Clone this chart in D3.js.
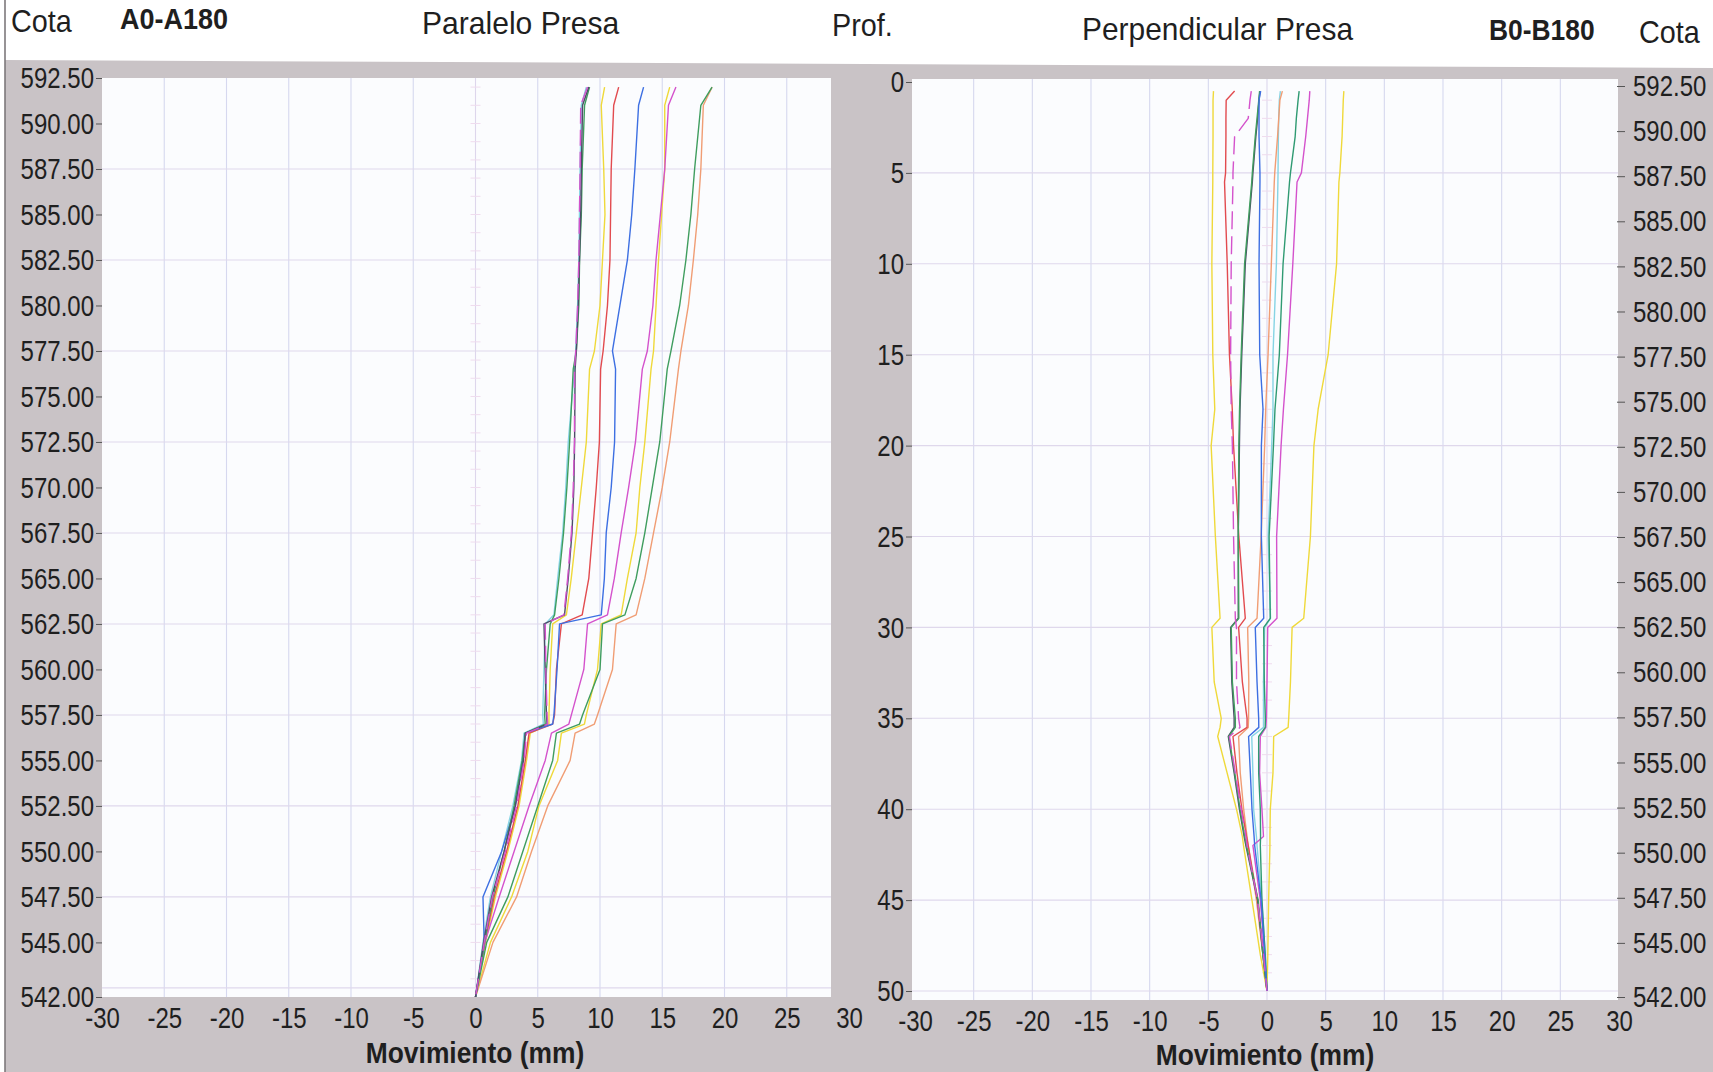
<!DOCTYPE html>
<html><head><meta charset="utf-8">
<script src="https://cdn.jsdelivr.net/npm/d3@7"></script>
<style>
html,body{margin:0;padding:0;background:#fff;}
svg{display:block;font-family:"Liberation Sans",Arial,sans-serif;}
</style></head><body>
<svg id="c" width="1713" height="1072"></svg>
<script>
// ---------- DATA ----------
const xTicks = [-30,-25,-20,-15,-10,-5,0,5,10,15,20,25,30];
const cotaTicks = [542,545,547.5,550,552.5,555,557.5,560,562.5,565,567.5,570,572.5,575,577.5,580,582.5,585,587.5,590,592.5];
const profTicks = [0,5,10,15,20,25,30,35,40,45,50];
const gridCota = [542.5,547.5,552.5,557.5,562.5,567.5,572.5,577.5,582.5,587.5];
const gridProf = [5,10,15,20,25,30,35,40,45,50];
const gridMov = [-25,-20,-15,-10,-5,0,5,10,15,20,25];

// Left panel (Paralelo Presa, A0-A180): cota levels and displacements (mm)
const cotaL = [592,591,587.5,585,582.5,580,577.5,576.5,572.5,570,567.5,565,563,562.5,560,557.5,557,556.5,555,552.5,550,547.5,545,542];
const aDark     = [9.1,8.6,8.5,8.45,8.35,8.25,8.1,8.0,7.96,7.9,7.75,7.45,7.15,5.5,5.6,5.7,5.75,4.0,3.85,3.2,2.3,1.3,0.65,0];
const aCyan     = [8.9,8.5,8.4,8.35,8.3,8.2,8.05,7.95,7.45,7.25,7.0,6.6,6.3,5.6,5.5,5.4,5.45,3.9,3.7,3.0,2.1,1.2,0.6,0];
const aMagDash  = [9.0,8.45,8.4,8.35,8.3,8.2,8.05,7.95,7.95,7.85,7.7,7.4,7.1,5.6,5.65,5.75,5.8,4.1,3.9,3.3,2.4,1.35,0.7,0];
const aGreen1   = [9.16,8.76,8.57,8.5,8.36,8.3,8.1,7.85,7.56,7.34,7.07,6.7,6.35,6.0,5.7,5.55,5.6,4.0,3.75,3.1,2.3,1.4,0.72,0];
const aYellow1  = [10.37,10.1,10.3,10.4,10.2,10.0,9.55,9.16,8.9,8.5,8.1,7.69,7.3,6.2,6.0,5.9,5.9,4.4,4.1,3.5,2.6,1.6,0.8,0];
const aRed      = [11.5,11.1,10.9,10.85,10.8,10.6,10.25,10.05,9.95,9.7,9.4,9.1,8.57,6.9,6.5,6.35,6.2,4.3,4.0,3.4,2.5,1.5,0.75,0];
const aBlue     = [13.5,13.1,12.8,12.55,12.2,11.6,11.0,11.25,11.17,10.9,10.5,10.35,10.1,6.75,6.55,6.3,6.2,4.0,3.8,3.2,2.1,0.6,0.7,0];
const aMagenta2 = [16.1,15.5,15.2,14.85,14.5,14.25,13.8,13.4,12.85,12.3,11.7,11.15,10.6,9.0,8.7,7.7,7.5,6.1,5.6,4.3,3.1,1.9,0.75,0];
const aYellow2  = [15.6,15.2,15.2,14.95,14.7,14.5,14.3,14.1,13.6,13.2,12.9,12.2,11.7,10.1,9.8,8.9,8.75,6.9,6.6,5.1,4.2,2.9,1.2,0];
const aGreen2   = [19.0,18.1,17.6,17.3,16.9,16.4,15.7,15.4,14.8,14.2,13.6,12.9,12.0,10.2,10.0,8.6,8.36,6.5,6.2,5.0,3.8,2.6,0.9,0];
const aOrange   = [19.0,18.3,18.1,17.85,17.5,17.1,16.5,16.3,15.6,15.0,14.3,13.6,12.9,11.3,11.0,9.8,9.55,8.0,7.6,5.8,4.5,3.3,1.4,0];

// Right panel (Perpendicular Presa, B0-B180): depth levels (m) and displacements (mm)
const profR = [0.5,1,2,3,5,5.5,10,15,18,20,25,29.5,30,33,35,35.5,36,38,40,41.5,42,45,48,50];
const bYellowL  = [-4.56,-4.6,-4.6,-4.6,-4.62,-4.62,-4.7,-4.62,-4.45,-4.76,-4.4,-4.0,-4.7,-4.5,-3.9,-4.0,-4.2,-3.4,-2.6,-2.1,-2.0,-1.28,-0.57,0];
const bRed      = [-2.76,-3.48,-3.5,-3.5,-3.53,-3.62,-3.39,-3.2,-2.96,-2.85,-2.4,-1.85,-2.42,-2.1,-1.7,-1.7,-2.9,-2.56,-2.14,-1.75,-1.6,-0.8,-0.3,0];
const bMagDash  = [-1.34,-1.45,-1.6,-2.76,-2.9,-2.9,-3.05,-3.1,-3.05,-2.95,-2.85,-2.7,-2.6,-2.6,-2.42,-2.3,-3.2,-2.7,-2.2,-1.8,-1.7,-0.8,-0.3,0];
const bGreen    = [-0.63,-0.7,-0.85,-1.0,-1.25,-1.3,-1.91,-2.2,-2.34,-2.4,-2.45,-2.4,-3.05,-2.95,-2.7,-2.7,-3.25,-2.75,-2.3,-1.9,-1.75,-0.75,-0.35,0];
const bDark     = [-0.6,-0.68,-0.8,-0.95,-1.2,-1.25,-1.85,-2.15,-2.3,-2.35,-2.45,-2.45,-3.1,-3.0,-2.8,-2.8,-3.3,-2.8,-2.35,-1.95,-1.8,-0.8,-0.35,0];
const bBlue     = [-0.54,-0.68,-0.68,-0.68,-0.6,-0.6,-0.68,-0.62,-0.34,-0.48,-0.48,-0.28,-1.0,-0.85,-0.71,-0.7,-1.57,-1.42,-1.28,-1.1,-1.05,-0.5,-0.2,0];
const bOrange   = [1.31,1.1,1.0,0.9,0.66,0.62,0.37,0.09,-0.11,-0.2,-0.5,-0.85,-1.65,-1.55,-1.57,-1.6,-2.42,-2.28,-1.99,-1.7,-1.6,-0.9,-0.35,0];
const bCyan     = [1.14,1.05,1.0,0.97,0.94,0.93,0.8,0.51,0.51,0.4,0.1,0.3,-0.2,-0.3,-0.3,-0.3,-1.3,-1.2,-1.14,-0.9,-0.85,-0.45,-0.15,0];
const bGreen2   = [2.74,2.65,2.5,2.4,2.0,1.92,1.37,1.05,0.68,0.55,0.18,0.28,-0.28,-0.23,-0.14,-0.15,-0.71,-0.71,-0.57,-0.55,-0.57,-0.43,-0.15,0];
const bMagenta2 = [3.65,3.6,3.45,3.3,2.93,2.56,2.2,1.75,1.4,1.2,0.82,0.85,0.06,0.0,-0.05,-0.1,-0.57,-0.63,-0.43,-0.3,-1.2,-0.57,-0.2,0];
const bYellowR  = [6.55,6.5,6.45,6.4,6.21,6.13,5.93,5.21,4.36,4.0,3.7,3.13,2.14,2.0,1.85,1.8,0.57,0.51,0.28,0.25,0.25,0.14,0.07,0];

// ---------- STYLE ----------
const C = {yellow:"#efd93a", red:"#e24b4f", magenta:"#d452cc", green:"#3f9d5e", blue:"#3d6fe2",
           cyan:"#86d4e4", orange:"#f09d74", dark:"#4d4d68", teal:"#2f9a72"};
const seriesL = [
  {v:aYellow1,c:C.yellow},{v:aYellow2,c:C.yellow},{v:aCyan,c:C.cyan},{v:aOrange,c:C.orange},
  {v:aRed,c:C.red},{v:aMagenta2,c:C.magenta},{v:aGreen2,c:C.green},{v:aBlue,c:C.blue},
  {v:aGreen1,c:C.green},{v:aDark,c:C.dark},{v:aMagDash,c:C.magenta,dash:"16,6"}
];
const seriesR = [
  {v:bYellowL,c:C.yellow},{v:bYellowR,c:C.yellow},{v:bCyan,c:C.cyan},{v:bOrange,c:C.orange},
  {v:bRed,c:C.red},{v:bMagenta2,c:C.magenta},{v:bGreen2,c:C.teal},{v:bDark,c:C.dark},
  {v:bGreen,c:C.green},{v:bBlue,c:C.blue},{v:bMagDash,c:C.magenta,dash:"18,7"}
];

const W=1713,H=1072;
const svg = d3.select("#c");
const defs = svg.append("defs");
const GRAY="#c9c3c6", TXT="#1f1f1f";

svg.append("rect").attr("width",W).attr("height",H).attr("fill","#fff");
svg.append("polygon").attr("points","5,60 1713,68 1713,1072 5,1072").attr("fill",GRAY);
svg.append("line").attr("x1",5).attr("x2",5).attr("y1",0).attr("y2",H).attr("stroke","#7d787b").attr("stroke-width",1.6);

function txt(x,y,s,size,weight,sx,anchor){
  svg.append("text").attr("transform",`translate(${x},${y}) scale(${sx},1)`)
    .attr("font-size",size).attr("font-weight",weight).attr("text-anchor",anchor||"start")
    .attr("fill",TXT).text(s);
}

function panel(o){
  const {id,xs,ys,rect,levels,series,gridY,zeroTicks} = o;
  defs.append("clipPath").attr("id",id).append("rect")
    .attr("x",rect[0]).attr("y",rect[1]).attr("width",rect[2]-rect[0]).attr("height",rect[3]-rect[1]);
  svg.append("rect").attr("x",rect[0]).attr("y",rect[1]).attr("width",rect[2]-rect[0]).attr("height",rect[3]-rect[1]).attr("fill","#fbfcfe");
  const g = svg.append("g").attr("clip-path",`url(#${id})`);
  g.selectAll(".gx").data(gridMov).join("line")
    .attr("x1",d=>xs(d)).attr("x2",d=>xs(d)).attr("y1",rect[1]).attr("y2",rect[3])
    .attr("stroke",d=>d===0?"#ddd6ec":"#d6d8ef").attr("stroke-width",1.1);
  g.selectAll(".gy").data(gridY).join("line")
    .attr("x1",rect[0]).attr("x2",rect[2]).attr("y1",d=>ys(d)).attr("y2",d=>ys(d))
    .attr("stroke","#dfd8ec").attr("stroke-width",1.1);
  g.selectAll(".zt").data(zeroTicks).join("line")
    .attr("x1",xs(0)-5).attr("x2",xs(0)+5).attr("y1",d=>ys(d)).attr("y2",d=>ys(d))
    .attr("stroke","#efdcee").attr("stroke-width",1);
  const line = d3.line().x(d=>xs(d[1])).y(d=>ys(d[0]));
  series.forEach(s=>{
    g.append("path").attr("d",line(levels.map((l,i)=>[l,s.v[i]])))
      .attr("fill","none").attr("stroke",s.c).attr("stroke-width",1.4)
      .attr("stroke-linejoin","round").attr("stroke-dasharray",s.dash||null);
  });
}

// ---------- LEFT ----------
const xL = d3.scaleLinear().domain([-30,30]).range([102,849]);
const yL = d3.scaleLinear().domain([542,592.5]).range([997,78]);
panel({id:"cl",xs:xL,ys:yL,rect:[102,78,831,997],levels:cotaL,series:seriesL,gridY:gridCota,
  zeroTicks:d3.range(543,593,1)});

// ---------- RIGHT ----------
const xR = d3.scaleLinear().domain([-30,30]).range([915,1619]);
const yR = d3.scaleLinear().domain([0,50]).range([82,991]);
const yRc = d3.scaleLinear().domain([542,592.5]).range([997,86]);
panel({id:"cr",xs:xR,ys:yR,rect:[912,79,1618,1000],levels:profR,series:seriesR,gridY:gridProf,
  zeroTicks:d3.range(1,50,1)});

// ---------- AXES ----------
function styleAxis(g, sx, fs){
  g.attr("font-size",fs).attr("font-family",null);
  g.select(".domain").remove();
  g.selectAll(".tick line").attr("stroke","#555").attr("stroke-width",1);
  g.selectAll(".tick text").attr("fill",TXT).each(function(){
    const t=d3.select(this); const x=+t.attr("x")||0;
    t.attr("x",0).attr("transform",`translate(${x},0) scale(${sx},1)`);
  });
}
const f2 = d3.format(".2f");
const fInt = d => String(d);
let g;
g = svg.append("g").attr("transform","translate(102,0)")
  .call(d3.axisLeft(yL).tickValues(cotaTicks).tickFormat(f2).tickSize(6).tickPadding(2));
styleAxis(g,0.8,30);

g = svg.append("g").attr("transform","translate(912,0)")
  .call(d3.axisLeft(yR).tickValues(profTicks).tickFormat(fInt).tickSize(6).tickPadding(2));
styleAxis(g,0.8,30);

g = svg.append("g").attr("transform","translate(1617,0)")
  .call(d3.axisRight(yRc).tickValues(cotaTicks).tickFormat(f2).tickSize(8).tickPadding(8));
styleAxis(g,0.8,30);

g = svg.append("g").attr("transform","translate(0,997)")
  .call(d3.axisBottom(xL).tickValues(xTicks).tickFormat(fInt).tickSize(0).tickPadding(10));
styleAxis(g,0.8,30);

g = svg.append("g").attr("transform","translate(0,1000)")
  .call(d3.axisBottom(xR).tickValues(xTicks).tickFormat(fInt).tickSize(0).tickPadding(10));
styleAxis(g,0.8,30);

// ---------- TEXT ----------
txt(11,32,"Cota",32,400,0.9);
txt(120,29,"A0-A180",30,700,0.9);
txt(422,34,"Paralelo Presa",32,400,0.94);
txt(832,36,"Prof.",32,400,0.9);
txt(1082,40,"Perpendicular Presa",32,400,0.935);
txt(1489,40,"B0-B180",30,700,0.88);
txt(1639,43,"Cota",32,400,0.9);
txt(475,1063,"Movimiento (mm)",30,700,0.88,"middle");
txt(1265,1065,"Movimiento (mm)",30,700,0.88,"middle");
</script>
</body></html>
